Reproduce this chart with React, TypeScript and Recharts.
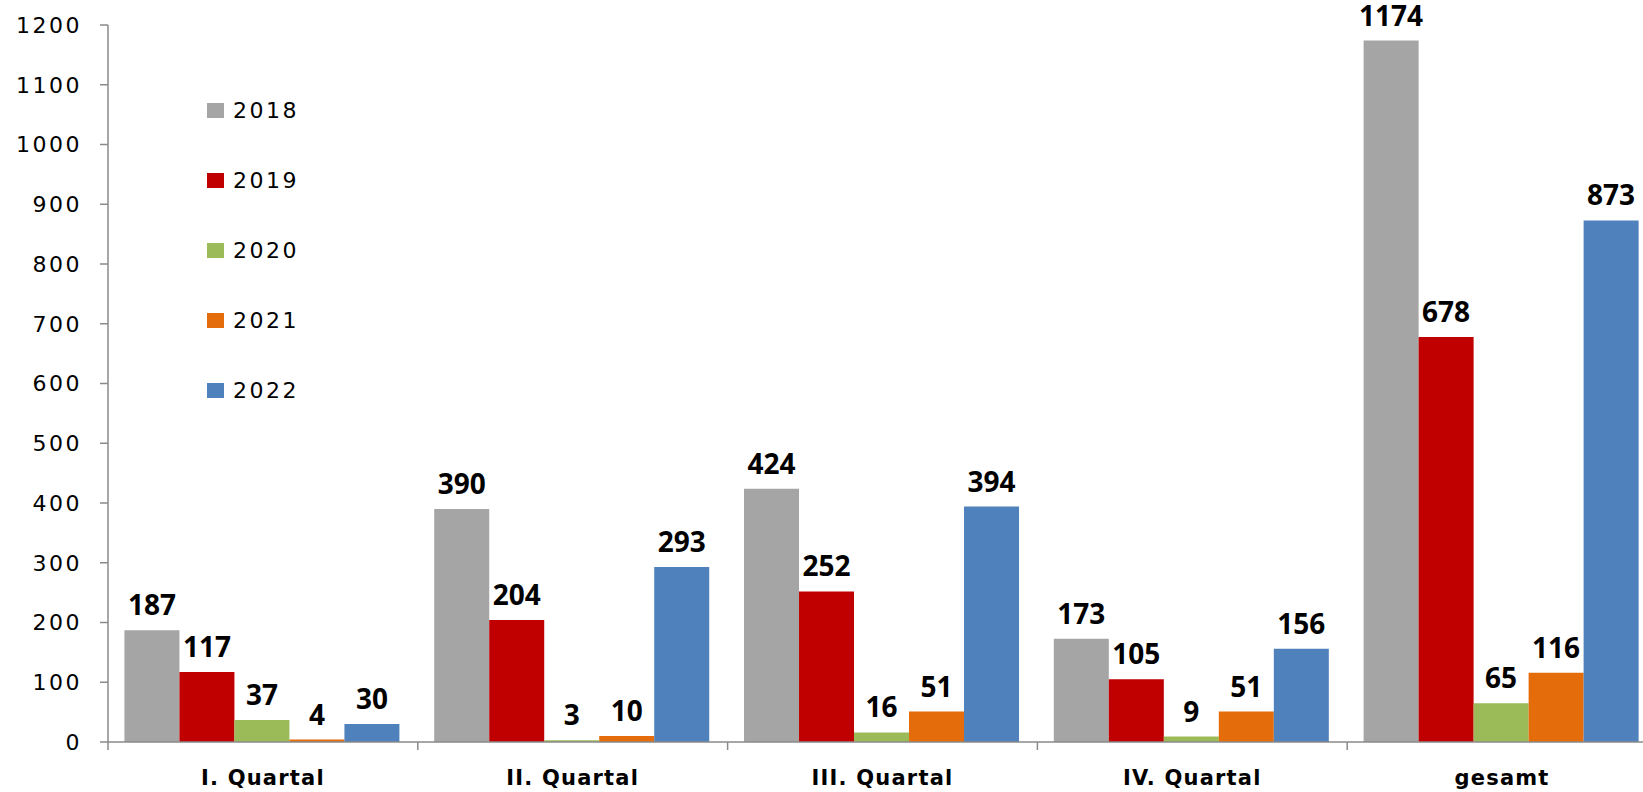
import { Bar, BarChart, LabelList, Legend, XAxis, YAxis } from 'recharts';

const categories = ['I. Quartal', 'II. Quartal', 'III. Quartal', 'IV. Quartal', 'gesamt'];
const years = ['2018', '2019', '2020', '2021', '2022'];

const values2018 = [187, 390, 424, 173, 1174];
const values2019 = [117, 204, 252, 105, 678];
const values2020 = [37, 3, 16, 9, 65];
const values2021 = [4, 10, 51, 51, 116];
const values2022 = [30, 293, 394, 156, 873];

const yTicks = [0, 100, 200, 300, 400, 500, 600, 700, 800, 900, 1000, 1100, 1200];

const seriesValues = [values2018, values2019, values2020, values2021, values2022];
const seriesColors = ['#a5a5a5', '#c00000', '#9bbb59', '#e46c0a', '#4f81bd'];

const data = categories.map((name, i) => {
  const row: Record<string, string | number> = { name };
  years.forEach((year, s) => {
    row[year] = seriesValues[s][i];
  });
  return row;
});

// chart geometry (the plot runs a little past the right edge of the frame)
const CHART_WIDTH = 1660;
const CHART_HEIGHT = 792;
const MARGIN = { top: 25, right: 3, bottom: 0, left: 0 };
const Y_AXIS_WIDTH = 108;
const X_AXIS_HEIGHT = 50;
const TICK_SIZE = 8;
const BAND = (CHART_WIDTH - MARGIN.left - MARGIN.right - Y_AXIS_WIDTH) / categories.length;

const AXIS_COLOR = '#8a8a8a';
const TEXT_FONT = '"DejaVu Sans", sans-serif';

// Excel-style category axis: tick marks sit between the groups, not under them
function CategoryTick(props: any) {
  const { x, y, payload } = props;
  const edge = x - BAND / 2;
  return (
    <g>
      <line x1={edge} x2={edge} y1={y - TICK_SIZE} y2={y} stroke={AXIS_COLOR} strokeWidth={1.5} />
      <text
        x={x}
        y={y + 35}
        textAnchor="middle"
        fill="#000"
        fontSize={21}
        fontWeight={700}
        fontFamily={TEXT_FONT}
        letterSpacing={1.2}
      >
        {payload.value}
      </text>
    </g>
  );
}

function YearLegend(props: any) {
  const { payload = [] } = props;
  return (
    <div>
      {payload.map((entry: any) => (
        <div key={entry.value} style={{ height: 70, display: 'flex', alignItems: 'center' }}>
          <span
            style={{ display: 'inline-block', width: 17, height: 15, background: entry.color, marginRight: 9 }}
          />
          <span style={{ fontFamily: TEXT_FONT, fontSize: 22, letterSpacing: 2.5, color: '#000' }}>
            {entry.value}
          </span>
        </div>
      ))}
    </div>
  );
}

export default function App() {
  return (
    <div
      style={{
        position: 'fixed',
        left: 0,
        top: 0,
        width: 1643,
        height: 792,
        overflow: 'hidden',
        background: '#fff',
      }}
    >
      <BarChart
        width={CHART_WIDTH}
        height={CHART_HEIGHT}
        data={data}
        margin={MARGIN}
        barCategoryGap="5.3%"
        barGap={0}
      >
        <XAxis
          dataKey="name"
          height={X_AXIS_HEIGHT}
          interval={0}
          tickSize={TICK_SIZE}
          tickMargin={0}
          tickLine={false}
          axisLine={{ stroke: AXIS_COLOR, strokeWidth: 1.5 }}
          tick={(p: any) => <CategoryTick {...p} />}
        />
        <YAxis
          width={Y_AXIS_WIDTH}
          domain={[0, 1200]}
          ticks={yTicks}
          interval={0}
          tickSize={TICK_SIZE}
          tickMargin={18}
          axisLine={{ stroke: AXIS_COLOR, strokeWidth: 1.5 }}
          tickLine={{ stroke: AXIS_COLOR, strokeWidth: 1.5 }}
          tick={{ fill: '#000', fontSize: 22, fontFamily: TEXT_FONT, letterSpacing: 2.5 }}
        />
        <Legend
          layout="vertical"
          align="center"
          verticalAlign="middle"
          content={(p: any) => <YearLegend {...p} />}
          wrapperStyle={{ left: 207, top: 75, width: 'auto' }}
        />
        {years.map((year, s) => (
          <Bar key={year} dataKey={year} fill={seriesColors[s]} isAnimationActive={false}>
            <LabelList
              dataKey={year}
              position="top"
              offset={15}
              fill="#000"
              fontSize={28}
              fontWeight={700}
              fontFamily='"Open Sans", sans-serif'
            />
          </Bar>
        ))}
      </BarChart>
    </div>
  );
}
